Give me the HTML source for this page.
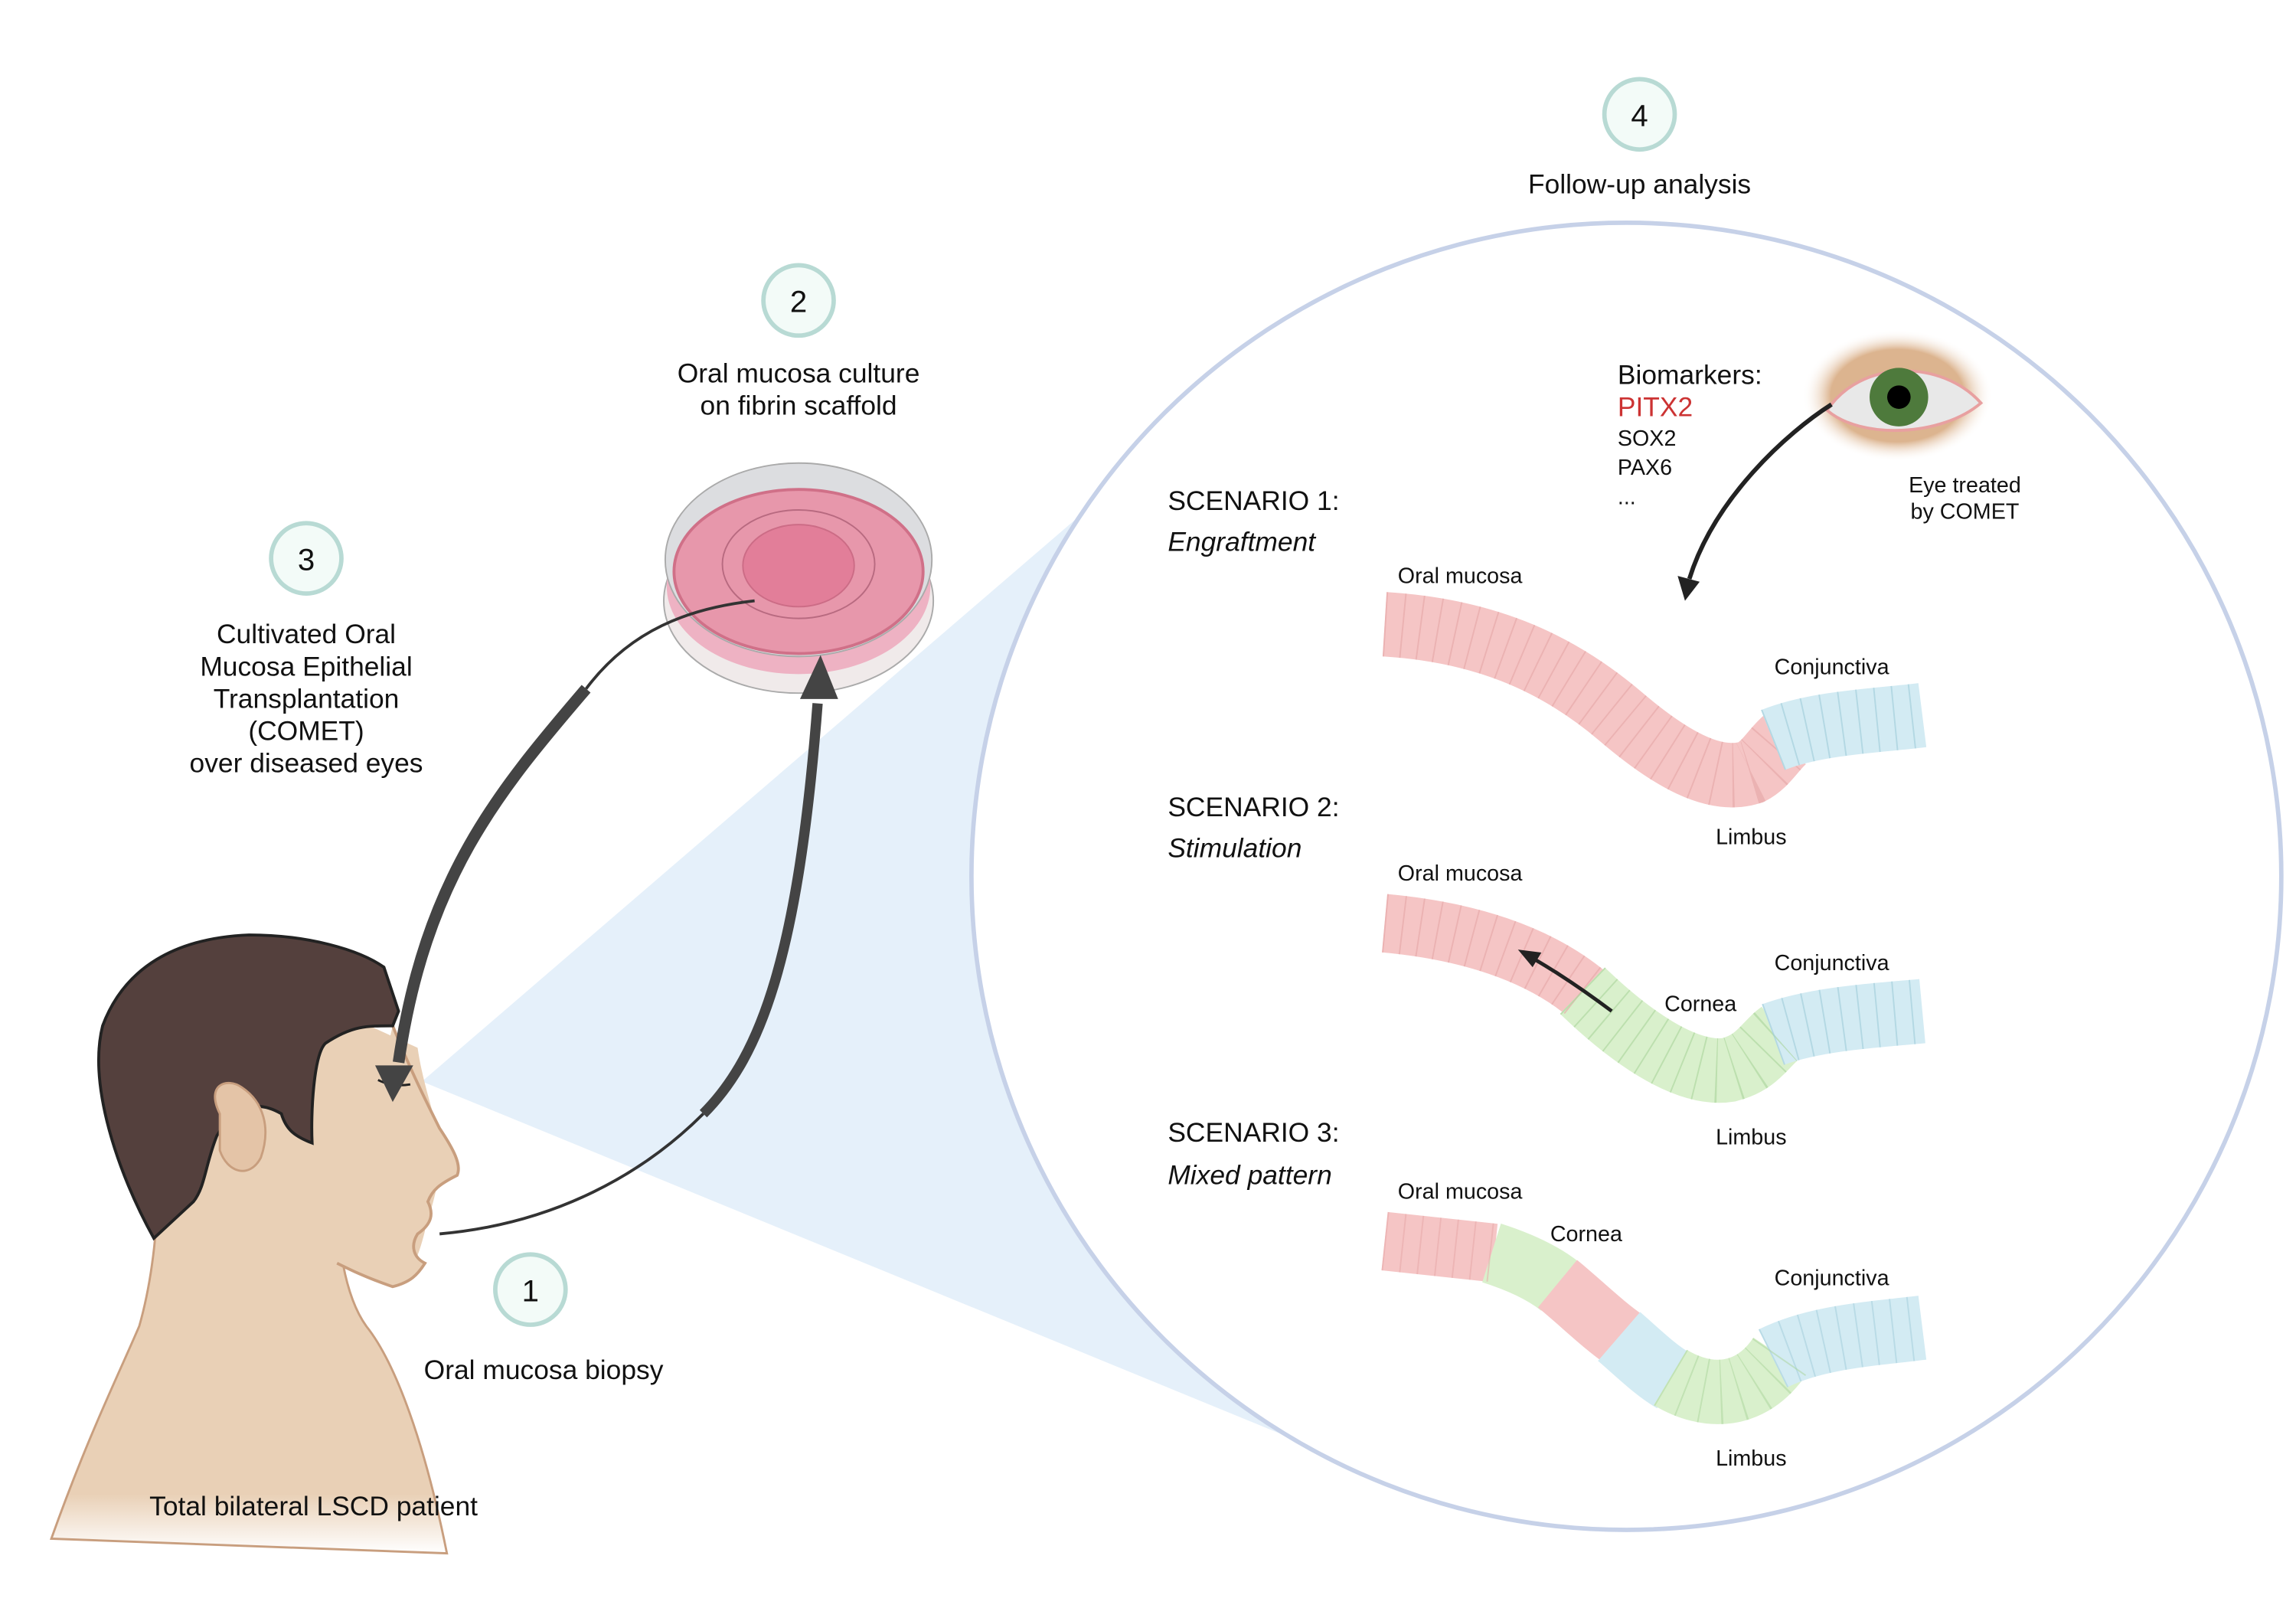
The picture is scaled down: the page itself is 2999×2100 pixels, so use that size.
<!DOCTYPE html>
<html><head><meta charset="utf-8">
<style>
html,body{margin:0;padding:0;background:#fff;}
svg{display:block;}
text{font-family:"Liberation Sans",sans-serif;fill:#111;}
</style></head>
<body>
<svg width="2999" height="2100" viewBox="0 0 1567 1097.3" xmlns="http://www.w3.org/2000/svg">
<defs>
<linearGradient id="fade" x1="0" y1="0" x2="0" y2="1">
<stop offset="0.85" stop-color="#e9d0b6"/><stop offset="1" stop-color="#fff"/></linearGradient>
<radialGradient id="eyeskin" cx="0.5" cy="0.5" r="0.5">
<stop offset="0.7" stop-color="#dcb48f"/><stop offset="1" stop-color="#fff" stop-opacity="0"/></radialGradient>
</defs>

<!-- cone -->
<polygon points="288,738 745,345 890,985" fill="#e5f0fa"/>
<!-- big circle -->
<ellipse cx="1110" cy="598" rx="447" ry="446" fill="#fff" stroke="#c6d1e8" stroke-width="3"/>

<!-- person body -->
<path d="M35,1050 C60,980 80,940 95,905 C105,870 108,830 108,800 L230,790 C228,830 232,880 250,905 C270,930 290,985 305,1060 Z" fill="url(#fade)" stroke="#c89e7e" stroke-width="1.5"/>
<path d="M108,800 C120,790 150,700 230,690 L285,715 C290,750 305,780 300,795 C298,820 290,835 290,840 C285,860 280,870 270,878 C255,870 240,865 225,860 L232,900 L110,905 Z" fill="#e9d0b6"/>
<path d="M268,700 C280,730 290,750 300,770 C310,785 315,795 312,802 C300,808 295,812 292,820 C296,828 295,835 285,842 C280,850 282,858 290,862 C285,870 280,875 268,878 C250,872 238,866 230,862" fill="#e9d0b6" stroke="#c89e7e" stroke-width="2"/>
<!-- hair -->
<path d="M105,845 C80,800 60,740 70,700 C85,660 120,640 170,638 C210,638 245,648 262,660 L272,690 L268,700 C250,700 240,700 222,712 C214,720 212,760 213,780 C200,775 195,770 192,760 C175,750 160,755 148,775 C140,795 140,810 132,820 Z" fill="#54403d" stroke="#222" stroke-width="2"/>
<!-- ear -->
<path d="M150,760 C140,740 155,735 165,742 C180,752 185,770 178,790 C170,805 155,800 150,785 Z" fill="#e4c4a7" stroke="#c89e7e" stroke-width="1.5"/>
<path d="M258,737 Q268,742 280,740" stroke="#222" stroke-width="1.5" fill="none"/>

<!-- dish -->
<ellipse cx="545" cy="410" rx="92" ry="63" fill="#f0eaea" stroke="#aaa" stroke-width="1"/>
<ellipse cx="545" cy="400" rx="90" ry="60" fill="#eeb2c3"/>
<ellipse cx="545" cy="382" rx="91" ry="66" fill="#dcdde0" stroke="#aaa" stroke-width="1"/>
<ellipse cx="545" cy="390" rx="85" ry="56" fill="#e797ab" stroke="#d07088" stroke-width="2"/>
<ellipse cx="545" cy="385" rx="52" ry="37" fill="none" stroke="#b86a80" stroke-width="1"/>
<ellipse cx="545" cy="386" rx="38" ry="28" fill="#e27e99" stroke="#cc6c86" stroke-width="1"/>

<!-- thin line mouth to arrow -->
<path d="M300,842 C380,835 440,800 480,760" fill="none" stroke="#333" stroke-width="2"/>
<path d="M480,760 C520,720 545,650 558,480" fill="none" stroke="#444" stroke-width="7"/>
<polygon points="546,477 572,477 560,447" fill="#444"/>

<!-- arrow from dish to eye -->
<path d="M515,410 C470,415 430,430 400,470" fill="none" stroke="#333" stroke-width="2"/>
<path d="M400,470 C340,540 290,600 272,725" fill="none" stroke="#444" stroke-width="8"/>
<polygon points="256,727 282,727 268,752" fill="#444"/>

<!-- numbered circles -->
<g stroke="#b8dad4" stroke-width="3" fill="#f3fbf8">
<circle cx="362" cy="880" r="24"/><circle cx="545" cy="205" r="24"/>
<circle cx="209" cy="381" r="24"/><circle cx="1119" cy="78" r="24"/></g>
<g font-size="21" text-anchor="middle">
<text x="362" y="888">1</text><text x="545" y="213">2</text>
<text x="209" y="389">3</text><text x="1119" y="86">4</text></g>

<g font-size="18.5" text-anchor="middle">
<text x="371" y="941">Oral mucosa biopsy</text>
<text x="214" y="1034">Total bilateral LSCD patient</text>
<text x="545" y="261">Oral mucosa culture</text>
<text x="545" y="283">on fibrin scaffold</text>
<text x="209" y="439">Cultivated Oral</text>
<text x="209" y="461">Mucosa Epithelial</text>
<text x="209" y="483">Transplantation</text>
<text x="209" y="505">(COMET)</text>
<text x="209" y="527">over diseased eyes</text>
<text x="1119" y="132">Follow-up analysis</text>
</g>

<g font-size="18.5">
<text x="797" y="348">SCENARIO 1:</text>
<text x="797" y="376" font-style="italic">Engraftment</text>
<text x="797" y="557">SCENARIO 2:</text>
<text x="797" y="585" font-style="italic">Stimulation</text>
<text x="797" y="779">SCENARIO 3:</text>
<text x="797" y="808" font-style="italic">Mixed pattern</text>
<text x="1104" y="262">Biomarkers:</text>
<text x="1104" y="284" style="fill:#cc3333">PITX2</text>
</g>
<g font-size="15">
<text x="1104" y="304">SOX2</text>
<text x="1104" y="324">PAX6</text>
<text x="1104" y="344">...</text>
<text x="1341" y="336" text-anchor="middle">Eye treated</text>
<text x="1341" y="354" text-anchor="middle">by COMET</text>
<text x="954" y="398">Oral mucosa</text>
<text x="1211" y="460">Conjunctiva</text>
<text x="1171" y="576">Limbus</text>
<text x="954" y="601">Oral mucosa</text>
<text x="1211" y="662">Conjunctiva</text>
<text x="1136" y="690">Cornea</text>
<text x="1171" y="781">Limbus</text>
<text x="954" y="818">Oral mucosa</text>
<text x="1058" y="847">Cornea</text>
<text x="1211" y="877">Conjunctiva</text>
<text x="1171" y="1000">Limbus</text>
</g>

<!-- eye image -->
<ellipse cx="1295" cy="270" rx="65" ry="45" fill="url(#eyeskin)"/>
<path d="M1247,280 C1270,245 1325,245 1352,275 C1325,298 1270,300 1247,280 Z" fill="#e8e8e8" stroke="#e8a0a0" stroke-width="2"/>
<circle cx="1296" cy="271" r="20" fill="#4e7a3c"/>
<circle cx="1296" cy="271" r="8" fill="#000"/>
<path d="M1250,276 C1220,295 1170,340 1153,395" fill="none" stroke="#222" stroke-width="3"/>
<polygon points="1145,393 1160,397 1150,410" fill="#222"/>

<!-- tissues -->
<g fill="none" stroke-linecap="butt">
<path d="M945,426 C1010,430 1060,450 1105,488 C1140,518 1170,535 1195,527 C1205,522 1210,512 1218,505" stroke="#f5c5c5" stroke-width="44"/>
<path d="M945,426 C1010,430 1060,450 1105,488 C1140,518 1170,535 1195,527 C1205,522 1210,512 1218,505" stroke="#e5a5a5" stroke-width="44" stroke-dasharray="1 11" opacity="0.6"/>
<path d="M1210,505 C1240,493 1280,492 1312,488" stroke="#d3ebf3" stroke-width="44"/>
<path d="M1210,505 C1240,493 1280,492 1312,488" stroke="#9fcbd9" stroke-width="44" stroke-dasharray="1 11" opacity="0.6"/>
<path d="M945,630 C1000,635 1050,650 1085,680" stroke="#f5c5c5" stroke-width="40"/>
<path d="M1080,676 C1110,705 1150,735 1180,730 C1200,725 1205,712 1215,705" stroke="#d9f0cc" stroke-width="44"/>
<path d="M1210,706 C1240,695 1280,693 1312,690" stroke="#d3ebf3" stroke-width="44"/>
<path d="M945,630 C1000,635 1050,650 1085,680" stroke="#e5a5a5" stroke-width="40" stroke-dasharray="1 11" opacity="0.6"/>
<path d="M1080,676 C1110,705 1150,735 1180,730 C1200,725 1205,712 1215,705" stroke="#a9d39a" stroke-width="44" stroke-dasharray="1 11" opacity="0.6"/>
<path d="M1210,706 C1240,695 1280,693 1312,690" stroke="#9fcbd9" stroke-width="44" stroke-dasharray="1 11" opacity="0.6"/>
<path d="M945,847 L1020,855" stroke="#f5c5c5" stroke-width="40"/>
<path d="M1018,855 C1040,862 1055,870 1065,878" stroke="#d9f0cc" stroke-width="42"/>
<path d="M1063,876 C1080,890 1095,905 1110,915" stroke="#f5c5c5" stroke-width="42"/>
<path d="M1105,912 C1120,925 1130,935 1142,942" stroke="#d3ebf3" stroke-width="44"/>
<path d="M1140,940 C1165,955 1195,955 1215,925" stroke="#d9f0cc" stroke-width="44"/>
<path d="M1210,927 C1240,912 1280,910 1312,906" stroke="#d3ebf3" stroke-width="44"/>
<path d="M945,847 L1020,855" stroke="#e5a5a5" stroke-width="40" stroke-dasharray="1 11" opacity="0.5"/>
<path d="M1210,927 C1240,912 1280,910 1312,906" stroke="#9fcbd9" stroke-width="44" stroke-dasharray="1 11" opacity="0.5"/>
<path d="M1140,940 C1165,955 1195,955 1215,925" stroke="#a9d39a" stroke-width="44" stroke-dasharray="1 11" opacity="0.5"/>
</g>
<!-- stimulation arrow -->
<path d="M1100,690 C1080,675 1065,665 1048,655" stroke="#222" stroke-width="2.5" fill="none"/>
<polygon points="1036,648 1052,650 1046,660" fill="#222"/>
</svg>
</body></html>
